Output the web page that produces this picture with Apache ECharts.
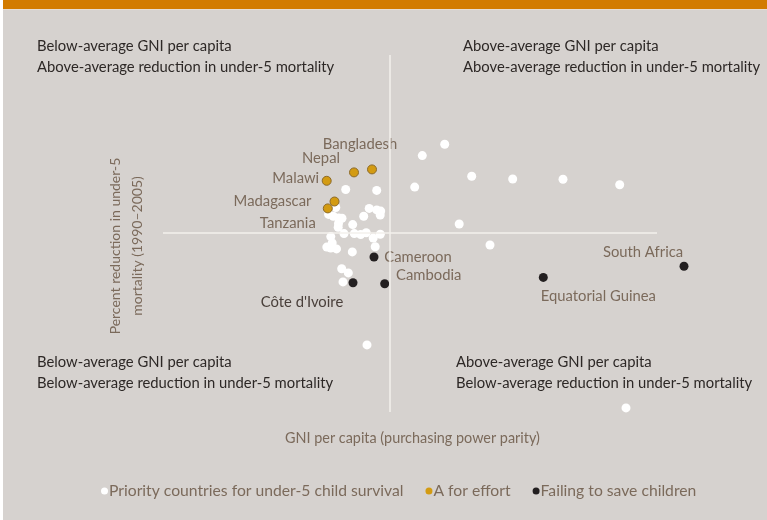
<!DOCTYPE html>
<html>
<head>
<meta charset="utf-8">
<script src="https://cdn.jsdelivr.net/npm/echarts@6/dist/echarts.min.js"></script>
<style>
  html, body { margin: 0; padding: 0; background: #ffffff; }
  #chart { width: 767px; height: 520px; }
</style>
</head>
<body>
<div id="chart"></div>
<script>
// ── Data (GNI per capita PPP, % reduction in under-5 mortality 1990–2005) ──
const avgGNI = 5800
const avgReduction = 19

const priorityGNI = [
  6894, 6446, 7434, 8254, 9260, 10394, 6294, 4914, 5534, 4716,
  5384, 5534, 5614, 5604, 5274, 4572, 4666, 4776, 4840, 4770,
  4764, 5054, 7184, 4880, 5086, 5214, 5324, 5464, 5606, 4616,
  7800, 4644, 4536, 4614, 4730, 5504, 5046, 4834, 4966, 4860,
  5340, 10520,
]
const priorityReduction = [
  48.6, 44.8, 37.9, 37.0, 36.9, 35.1, 34.3, 33.5, 33.2, 27.5,
  27.2, 26.7, 26.3, 25.0, 24.6, 25.2, 24.6, 24.0, 23.9, 22.2,
  20.9, 21.8, 22.0, 18.8, 18.8, 18.5, 19.1, 17.3, 18.6, 17.8,
  15.0, 15.7, 14.3, 14.0, 13.7, 14.4, 12.7, 7.1, 5.7, 2.7,
  -18.3, -39.3,
]

const effortNames = ['Bangladesh', 'Nepal', 'Malawi', 'Madagascar', 'Tanzania']
const effortGNI = [5440, 5080, 4534, 4690, 4556]
const effortReduction = [40.2, 39.2, 36.4, 29.5, 27.2]

const failingNames = ['Cameroon', "Côte d'Ivoire", 'Cambodia', 'Equatorial Guinea', 'South Africa']
const failingGNI = [5480, 5060, 5694, 8866, 11680]
const failingReduction = [11.0, 2.4, 2.1, 4.2, 7.9]

const quadrantText = {
  tl: ['Below-average GNI per capita', 'Above-average reduction in under-5 mortality'],
  tr: ['Above-average GNI per capita', 'Above-average reduction in under-5 mortality'],
  bl: ['Below-average GNI per capita', 'Below-average reduction in under-5 mortality'],
  br: ['Above-average GNI per capita', 'Below-average reduction in under-5 mortality'],
}

// ── Label placement (text centre relative to point, px) ──
const labelOffset = {
  'Bangladesh': [-12, -25],
  'Nepal': [-33, -14],
  'Malawi': [-31, -3],
  'Madagascar': [-62, 0],
  'Tanzania': [-40, 15],
  'Cameroon': [44, 0],
  'Cambodia': [44, -8],
  "Côte d'Ivoire": [-51, 19],
  'Equatorial Guinea': [55, 19],
  'South Africa': [-41, -14],
}

const FONT = 'Lato, "Open Sans", sans-serif'
const BROWN = '#7b6a5b'
const DARK = '#2d2826'

function labelled(names, xs, ys, color) {
  return names.map((n, i) => ({
    name: n,
    value: [xs[i], ys[i]],
    label: {
      show: true,
      position: 'inside',
      offset: labelOffset[n],
      formatter: '{b}',
      color: n === "Côte d'Ivoire" ? '#4a403b' : color,
    },
  }))
}

function quadrant(lines, x, y) {
  return {
    type: 'text',
    left: x,
    top: y,
    style: {
      text: lines.join('\n'),
      font: '14.8px ' + FONT,
      fill: DARK,
      lineHeight: 21,
    },
  }
}

const chart = echarts.init(document.getElementById('chart'))

chart.setOption({
  backgroundColor: '#d6d2cf',
  textStyle: { fontFamily: FONT },
  animation: false,
  grid: { left: 100, right: 67, top: 50, bottom: 107 },
  xAxis: { type: 'value', min: 0, max: 12000, show: false },
  yAxis: { type: 'value', min: -41, max: 80, show: false },
  legend: {
    left: 96,
    top: 478,
    icon: 'circle',
    itemWidth: 7,
    itemHeight: 7,
    itemGap: 22,
    textStyle: { color: BROWN, fontSize: 15.7, fontFamily: FONT, padding: [0, 0, 0, -4] },
    data: [
      { name: 'Priority countries for under-5 child survival' },
      { name: 'A for effort', itemStyle: { borderWidth: 0 } },
      { name: 'Failing to save children' },
    ],
  },
  graphic: [
    { type: 'rect', left: 0, top: 0, shape: { width: 767, height: 9 }, style: { fill: '#d27b00' } },
    { type: 'rect', left: 0, top: 9, shape: { width: 767, height: 1 }, style: { fill: '#e6ddd4' } },
    { type: 'rect', left: 0, top: 0, shape: { width: 3, height: 520 }, style: { fill: '#ffffff' } },
    quadrant(quadrantText.tl, 37, 36),
    quadrant(quadrantText.tr, 463, 36),
    quadrant(quadrantText.bl, 37, 352),
    quadrant(quadrantText.br, 456, 352),
    {
      type: 'text',
      left: 285,
      top: 431,
      style: { text: 'GNI per capita (purchasing power parity)', font: '14.4px ' + FONT, fill: BROWN },
    },
    {
      type: 'text',
      x: 126,
      y: 246,
      rotation: Math.PI / 2,
      style: {
        text: 'Percent reduction in under-5\nmortality (1990–2005)',
        font: '14px ' + FONT,
        fill: BROWN,
        align: 'center',
        verticalAlign: 'middle',
        lineHeight: 22,
      },
    },
  ],
  series: [
    {
      name: 'Priority countries for under-5 child survival',
      type: 'scatter',
      symbolSize: 9,
      itemStyle: { color: '#ffffff', opacity: 1 },
      data: priorityGNI.map((x, i) => [x, priorityReduction[i]]),
      markLine: {
        silent: true,
        symbol: 'none',
        label: { show: false },
        lineStyle: { color: '#f3f0ed', width: 1.5, type: 'solid' },
        data: [
          [{ coord: [avgGNI, 78.3] }, { coord: [avgGNI, -40.7] }],
          [{ coord: [1260, avgReduction] }, { coord: [11140, avgReduction] }],
        ],
      },
      z: 2,
    },
    {
      name: 'A for effort',
      type: 'scatter',
      symbolSize: 9,
      itemStyle: { color: '#d39b12', borderColor: '#8c6a2a', borderWidth: 1, opacity: 1 },
      label: { fontSize: 14.8, fontFamily: FONT },
      data: labelled(effortNames, effortGNI, effortReduction, BROWN),
      z: 3,
    },
    {
      name: 'Failing to save children',
      type: 'scatter',
      symbolSize: 9,
      itemStyle: { color: '#231f20', opacity: 1 },
      label: { fontSize: 14.8, fontFamily: FONT },
      data: labelled(failingNames, failingGNI, failingReduction, BROWN),
      z: 4,
    },
  ],
})
</script>
</body>
</html>
